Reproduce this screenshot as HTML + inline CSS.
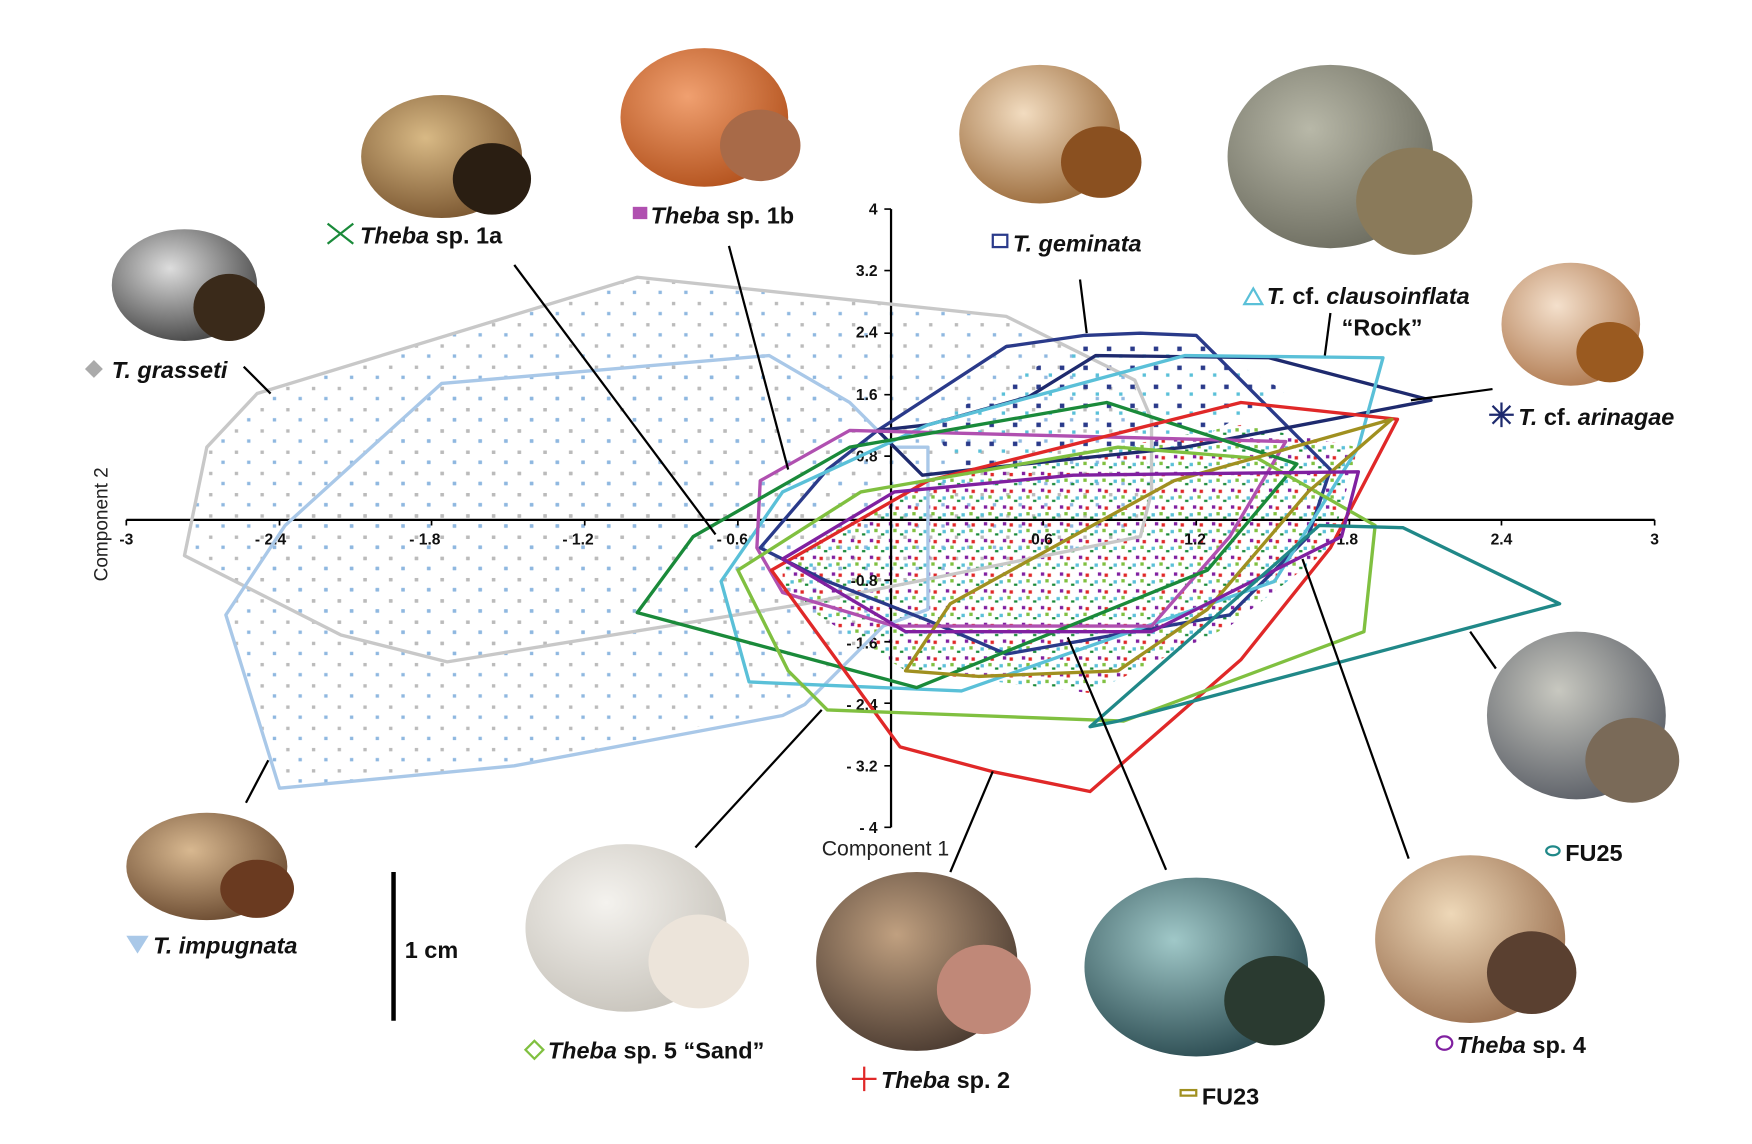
<!DOCTYPE html>
<html><head><meta charset="utf-8"><style>
html,body{margin:0;padding:0;background:#fff}
svg{display:block}
text{font-family:"Liberation Sans",Arial,sans-serif}
.lb{font-size:21px;font-weight:bold;fill:#111}
.tk{font-size:14px;font-weight:bold;fill:#111}
</style></head><body>
<svg width="1752" height="1144" viewBox="0 0 1752 1144" xmlns="http://www.w3.org/2000/svg">
<defs>
<radialGradient id="g1" cx="40%" cy="35%" r="70%"><stop offset="0" stop-color="#d8b985"/><stop offset="1" stop-color="#7a5630"/></radialGradient>
<radialGradient id="g2" cx="40%" cy="35%" r="70%"><stop offset="0" stop-color="#f0a070"/><stop offset="1" stop-color="#b3521d"/></radialGradient>
<radialGradient id="g3" cx="40%" cy="35%" r="70%"><stop offset="0" stop-color="#f2dcc0"/><stop offset="1" stop-color="#9a6a3a"/></radialGradient>
<radialGradient id="g4" cx="40%" cy="35%" r="70%"><stop offset="0" stop-color="#b8b8a8"/><stop offset="1" stop-color="#6d6d60"/></radialGradient>
<radialGradient id="g5" cx="40%" cy="35%" r="70%"><stop offset="0" stop-color="#ddd"/><stop offset="1" stop-color="#444"/></radialGradient>
<radialGradient id="g6" cx="40%" cy="35%" r="70%"><stop offset="0" stop-color="#f4e0cc"/><stop offset="1" stop-color="#b07a50"/></radialGradient>
<radialGradient id="g7" cx="40%" cy="35%" r="70%"><stop offset="0" stop-color="#c8c8c0"/><stop offset="1" stop-color="#5a5e66"/></radialGradient>
<radialGradient id="g8" cx="40%" cy="35%" r="70%"><stop offset="0" stop-color="#d8b890"/><stop offset="1" stop-color="#6a4a30"/></radialGradient>
<radialGradient id="g9" cx="40%" cy="35%" r="70%"><stop offset="0" stop-color="#f4f2ee"/><stop offset="1" stop-color="#c8c4bc"/></radialGradient>
<radialGradient id="g10" cx="40%" cy="35%" r="70%"><stop offset="0" stop-color="#c0a080"/><stop offset="1" stop-color="#4a3a30"/></radialGradient>
<radialGradient id="g11" cx="40%" cy="35%" r="70%"><stop offset="0" stop-color="#a0c8c8"/><stop offset="1" stop-color="#2a4a50"/></radialGradient>
<radialGradient id="g12" cx="40%" cy="35%" r="70%"><stop offset="0" stop-color="#eed8b8"/><stop offset="1" stop-color="#9a7050"/></radialGradient>
<pattern id="pg" width="23" height="19" patternUnits="userSpaceOnUse"><rect x="3" y="4" width="3" height="3" fill="#bbb"/><rect x="14" y="13" width="3" height="3" fill="#8fb8e0"/></pattern>
<pattern id="pc" width="17" height="15" patternUnits="userSpaceOnUse"><rect x="2" y="3" width="3" height="3" fill="#e02828"/><rect x="10" y="9" width="3" height="3" fill="#5ac0d8"/><rect x="6" y="12" width="3" height="2" fill="#1a8a3a"/><rect x="13" y="2" width="3" height="3" fill="#8020a0"/><rect x="0" y="8" width="3" height="3" fill="#80c040"/></pattern>
<pattern id="pb" width="21" height="17" patternUnits="userSpaceOnUse"><rect x="3" y="4" width="4" height="4" fill="#2a3a8a"/><rect x="14" y="11" width="3" height="3" fill="#5ac0d8"/></pattern>
</defs>
<g transform="scale(1.118)">
<!-- snails -->
<g>
<ellipse cx="165" cy="255" rx="65" ry="50" fill="url(#g5)"/><ellipse cx="205" cy="275" rx="32" ry="30" fill="#3a2a1a"/>
<ellipse cx="395" cy="140" rx="72" ry="55" fill="url(#g1)"/><ellipse cx="440" cy="160" rx="35" ry="32" fill="#2a1e12"/>
<ellipse cx="630" cy="105" rx="75" ry="62" fill="url(#g2)"/><ellipse cx="680" cy="130" rx="36" ry="32" fill="#a86a48"/>
<ellipse cx="930" cy="120" rx="72" ry="62" fill="url(#g3)"/><ellipse cx="985" cy="145" rx="36" ry="32" fill="#8a5020"/>
<ellipse cx="1190" cy="140" rx="92" ry="82" fill="url(#g4)"/><ellipse cx="1265" cy="180" rx="52" ry="48" fill="#8a7a5a"/>
<ellipse cx="1405" cy="290" rx="62" ry="55" fill="url(#g6)"/><ellipse cx="1440" cy="315" rx="30" ry="27" fill="#9a5a20"/>
<ellipse cx="1410" cy="640" rx="80" ry="75" fill="url(#g7)"/><ellipse cx="1460" cy="680" rx="42" ry="38" fill="#7a6a58"/>
<ellipse cx="185" cy="775" rx="72" ry="48" fill="url(#g8)"/><ellipse cx="230" cy="795" rx="33" ry="26" fill="#6a3a20"/>
<ellipse cx="560" cy="830" rx="90" ry="75" fill="url(#g9)"/><ellipse cx="625" cy="860" rx="45" ry="42" fill="#ece4da"/>
<ellipse cx="820" cy="860" rx="90" ry="80" fill="url(#g10)"/><ellipse cx="880" cy="885" rx="42" ry="40" fill="#c08878"/>
<ellipse cx="1070" cy="865" rx="100" ry="80" fill="url(#g11)"/><ellipse cx="1140" cy="895" rx="45" ry="40" fill="#2a3a30"/>
<ellipse cx="1315" cy="840" rx="85" ry="75" fill="url(#g12)"/><ellipse cx="1370" cy="870" rx="40" ry="37" fill="#5a4030"/>
</g>
<!-- dots -->
<polygon fill="url(#pg)" points="230,352 570,248 900,283 1015,340 1030,440 1020,480 720,540 400,592 305,568 165,497 185,400"/>
<polygon fill="url(#pg)" points="395,343 688,318 760,360 800,400 790,560 720,630 460,685 250,705 202,550 255,470"/>
<polygon fill="url(#pc)" points="700,500 830,430 1110,380 1215,400 1190,490 1100,560 975,620 810,600 700,530"/>
<polygon fill="url(#pb)" points="830,380 970,305 1070,305 1150,350 1060,400 860,420"/>
<!-- axes -->
<g stroke="#000" stroke-width="2" fill="none">
<line x1="113" y1="465" x2="1480" y2="465"/>
<line x1="797" y1="187" x2="797" y2="740"/>
</g>
<g stroke="#000" stroke-width="1.5">
<path d="M113,465v5M250,465v5M386,465v5M523,465v5M660,465v5M933,465v5M1070,465v5M1207,465v5M1343,465v5M1480,465v5"/>
<path d="M791,187h6M791,242h6M791,298h6M791,353h6M791,408h6M791,519h6M791,574h6M791,629h6M791,685h6M791,740h6"/>
</g>
<g class="tk" text-anchor="middle">
<text x="113" y="487">-3</text><text x="242" y="487">- 2.4</text><text x="380" y="487">- 1.8</text><text x="517" y="487">- 1.2</text><text x="655" y="487">- 0.6</text>
<text x="932" y="487">0.6</text><text x="1069" y="487">1.2</text><text x="1205" y="487">1.8</text><text x="1343" y="487">2.4</text><text x="1480" y="487">3</text>
</g>
<g class="tk" text-anchor="end">
<text x="785" y="192">4</text><text x="785" y="247">3.2</text><text x="785" y="302">2.4</text><text x="785" y="358">1.6</text><text x="785" y="413">0.8</text>
<text x="785" y="524">-0.8</text><text x="785" y="580">- 1.6</text><text x="785" y="635">- 2.4</text><text x="785" y="690">- 3.2</text><text x="785" y="745">- 4</text>
</g>
<text x="735" y="765" font-size="19" fill="#222">Component 1</text>
<text transform="translate(96,520) rotate(-90)" font-size="17" fill="#222">Component 2</text>
<!-- polygons -->
<g fill="none" stroke-width="3" stroke-linejoin="round">
<polygon stroke="#c8c8c8" points="230,352 570,248 900,283 1015,340 1030,375 1030,440 1020,480 720,540 400,592 305,568 165,497 185,400"/>
<polygon stroke="#a9c8e8" points="395,343 688,318 760,360 800,400 830,400 830,545 790,560 720,630 700,640 460,685 250,705 202,550 255,470"/>
<polygon stroke="#2a3a8a" points="785,385 900,310 970,300 1020,298 1070,300 1190,420 1170,480 1100,550 900,585 830,555 740,520 680,490 740,420"/>
<polygon stroke="#1e2a6e" points="785,385 825,425 870,420 1060,400 1280,358 1135,320 980,318 920,355 830,380"/>
<polygon stroke="#5ac0d8" points="830,380 1060,318 1237,320 1215,400 1140,520 860,618 670,610 645,520 700,440"/>
<polygon stroke="#b050b0" points="680,430 760,385 1150,395 1100,480 1030,560 800,560 700,530 677,490"/>
<polygon stroke="#1a8a3a" points="570,548 620,480 760,400 990,360 1160,415 1080,510 820,615"/>
<polygon stroke="#e02828" points="690,510 830,430 1110,360 1250,375 1190,490 1110,590 975,708 887,690 805,668"/>
<polygon stroke="#80c040" points="660,510 770,440 1000,400 1125,410 1230,470 1220,565 1005,645 740,635 705,600"/>
<polygon stroke="#a09020" points="810,600 850,540 1050,430 1245,375 1170,440 1080,545 1000,600 875,605"/>
<polygon stroke="#8020a0" points="700,500 800,440 960,425 1215,422 1200,480 1100,530 1030,565 810,565"/>
<polygon stroke="#208888" points="975,650 1180,470 1255,472 1395,540 1000,645"/>
</g>
<!-- leader lines -->
<g stroke="#000" stroke-width="2">
<line x1="460" y1="237" x2="640" y2="478"/>
<line x1="652" y1="220" x2="705" y2="420"/>
<line x1="966" y1="250" x2="972" y2="298"/>
<line x1="1190" y1="280" x2="1185" y2="318"/>
<line x1="1335" y1="348" x2="1262" y2="358"/>
<line x1="218" y1="328" x2="242" y2="352"/>
<line x1="220" y1="718" x2="240" y2="680"/>
<line x1="622" y1="758" x2="735" y2="635"/>
<line x1="850" y1="780" x2="888" y2="690"/>
<line x1="1043" y1="778" x2="955" y2="570"/>
<line x1="1260" y1="768" x2="1165" y2="500"/>
<line x1="1338" y1="598" x2="1315" y2="565"/>
<line x1="352" y1="780" x2="352" y2="913" stroke-width="4"/>
</g>
<!-- labels -->
<g class="lb" font-style="italic">
<text x="322" y="218" font-style="normal"><tspan font-style="italic">Theba</tspan> sp. 1a</text>
<text x="582" y="200" font-style="normal"><tspan font-style="italic">Theba</tspan> sp. 1b</text>
<text x="906" y="225">T. geminata</text>
<text x="1133" y="272" font-style="normal"><tspan font-style="italic">T.</tspan> cf. <tspan font-style="italic">clausoinflata</tspan></text>
<text x="1200" y="300" font-style="normal">“Rock”</text>
<text x="100" y="338">T. grasseti</text>
<text x="1358" y="380" font-style="normal"><tspan font-style="italic">T.</tspan> cf. <tspan font-style="italic">arinagae</tspan></text>
<text x="137" y="853">T. impugnata</text>
<text x="362" y="857" font-style="normal">1 cm</text>
<text x="490" y="947" font-style="normal"><tspan font-style="italic">Theba</tspan> sp. 5 “Sand”</text>
<text x="788" y="973" font-style="normal"><tspan font-style="italic">Theba</tspan> sp. 2</text>
<text x="1075" y="988" font-style="normal">FU23</text>
<text x="1303" y="942" font-style="normal"><tspan font-style="italic">Theba</tspan> sp. 4</text>
<text x="1400" y="770" font-style="normal">FU25</text>
</g>
<!-- label markers -->
<g fill="none" stroke-width="2">
<path d="M293,200 L316,218 M316,200 L293,218" stroke="#1a8a3a"/>
<rect x="566" y="185" width="13" height="11" fill="#b050b0" stroke="none"/>
<rect x="888" y="210" width="13" height="11" stroke="#2a3a8a"/>
<path d="M1113,272 L1121,258 L1129,272 Z" stroke="#5ac0d8"/>
<path d="M76,330 L84,322 L92,330 L84,338 Z" fill="#aaa" stroke="none"/>
<path d="M1332,371 L1354,371 M1343,360 L1343,382 M1335,363 L1351,379 M1351,363 L1335,379" stroke="#1e2a6e"/>
<path d="M113,837 L133,837 L123,853 Z" fill="#a9c8e8" stroke="none"/>
<path d="M470,939 L478,931 L486,939 L478,947 Z" stroke="#80c040"/>
<path d="M762,965 L784,965 M773,954 L773,976" stroke="#e02828"/>
<rect x="1056" y="975" width="14" height="5" stroke="#a09020"/>
<ellipse cx="1292" cy="933" rx="7" ry="6" stroke="#8020a0"/>
<ellipse cx="1389" cy="761" rx="6" ry="4" stroke="#208888"/>
</g>
</g>
</svg>
</body></html>
